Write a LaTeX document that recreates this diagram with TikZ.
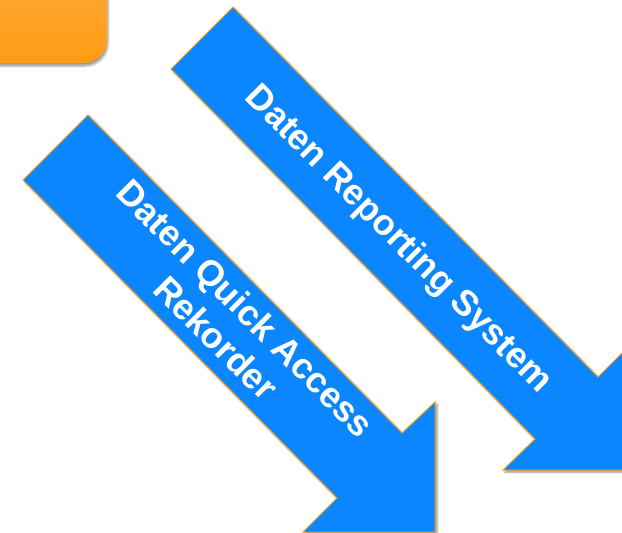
\documentclass[tikz,border=0pt]{standalone}
\usepackage{fontspec}
\setmainfont{Liberation Sans}
\usetikzlibrary{shadows.blur}
\definecolor{arrowblue}{RGB}{12,134,254}
\definecolor{edgeorange}{RGB}{245,158,28}
\definecolor{boxtop}{RGB}{254,172,62}
\definecolor{boxbot}{RGB}{255,156,20}
\begin{document}
\begin{tikzpicture}[x=1pt,y=-1pt,
  bigarrow/.style={fill=arrowblue, draw=edgeorange, line width=1pt, line join=miter,
    blur shadow={shadow xshift=2pt, shadow yshift=-2pt, shadow blur steps=6, shadow opacity=45}},
  orangebox/.style={top color=boxtop, bottom color=boxbot, rounded corners=23pt,
    blur shadow={shadow xshift=1pt, shadow yshift=-3pt, shadow blur steps=6, shadow opacity=40}},
  arrowtext/.style={text=white, font=\bfseries\fontsize{36}{42}\selectfont, rotate=-45,
    align=center, inner sep=0pt}]
\useasboundingbox (0,0) rectangle (622,533);
\clip (0,0) rectangle (622,533);
% orange box (cut off at the top left)
\path[orangebox] (-60,-60) rectangle (107,63);
% right arrow
\path[bigarrow] (233,7) -- (598,377) -- (630,345) -- (630,470) -- (503,470) -- (535,439) -- (171,69) -- cycle;
% left arrow
\path[bigarrow] (88,115) -- (402,433) -- (435,402) -- (435,532) -- (303,532) -- (337,498) -- (23,180) -- cycle;
\node[arrowtext] (rtext) at (398,240) {Daten Reporting System};
\node[arrowtext] (ltext) at (231,323) {Daten Quick Access\\Rekorder};
\end{tikzpicture}
\end{document}
